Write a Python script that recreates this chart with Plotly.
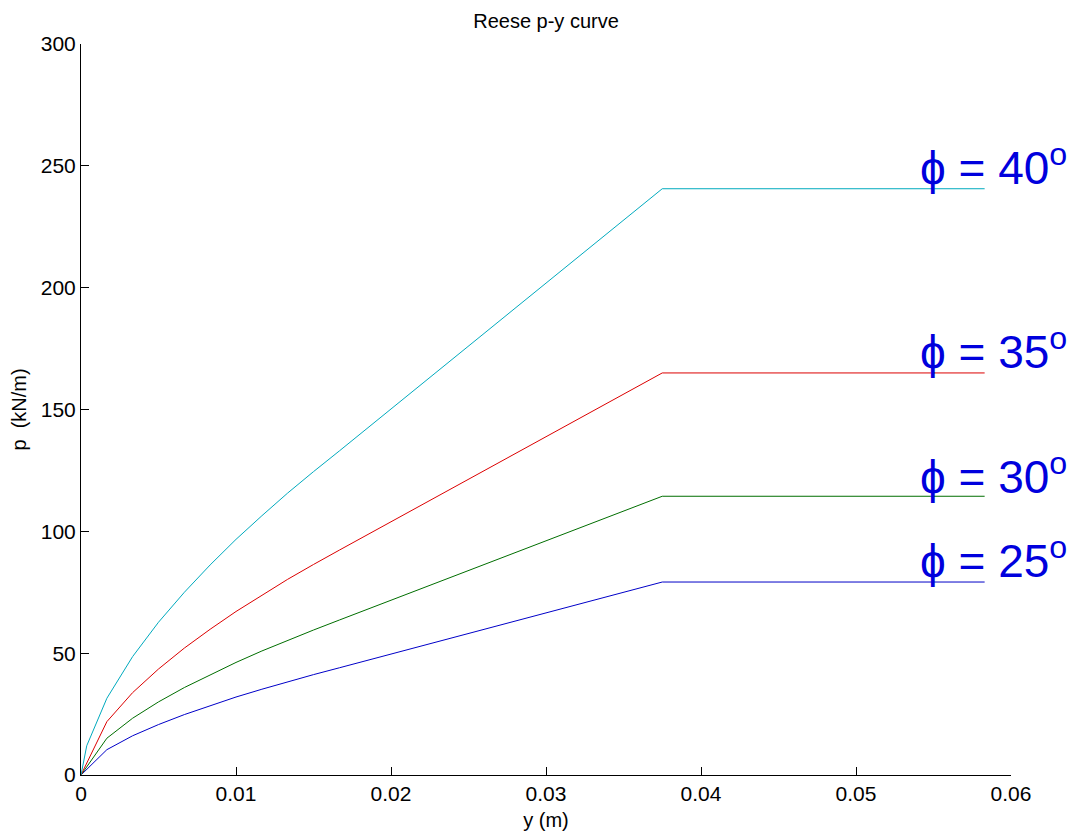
import plotly.graph_objects as go

# displacement y (m) sample points
y_cyan = [0, 0.00037, 0.00167, 0.00333, 0.005, 0.00667, 0.00833, 0.01, 0.01167, 0.01333, 0.015, 0.01667, 0.0375, 0.0583]
y_std = [0, 0.00167, 0.00333, 0.005, 0.00667, 0.00833, 0.01, 0.01167, 0.01333, 0.015, 0.01667, 0.0375, 0.0583]

# soil resistance p (kN/m)
p_25 = [0, 10.4, 16.1, 20.7, 24.8, 28.5, 32.0, 35.2, 38.3, 41.2, 44.0, 79.2, 79.2]
p_30 = [0, 15.1, 23.3, 30.0, 35.9, 41.2, 46.2, 50.9, 55.3, 59.5, 63.6, 114.4, 114.4]
p_35 = [0, 21.9, 33.8, 43.5, 52.1, 59.8, 67.1, 73.9, 80.3, 86.4, 92.3, 165.0, 165.0]
p_40 = [0, 12.0, 31.5, 48.6, 62.7, 75.0, 86.2, 96.7, 106.4, 115.7, 124.5, 133.0, 240.6, 240.6]

series = [
    ("25", y_std, p_25, "rgb(0,0,200)"),
    ("30", y_std, p_30, "rgb(0,110,0)"),
    ("35", y_std, p_35, "rgb(220,0,0)"),
    ("40", y_cyan, p_40, "rgb(0,170,190)"),
]

x_ticks = [0, 0.01, 0.02, 0.03, 0.04, 0.05, 0.06]
x_ticklabels = ["0", "0.01", "0.02", "0.03", "0.04", "0.05", "0.06"]
y_ticks = [0, 50, 100, 150, 200, 250, 300]

fig = go.Figure()
for name, xs, ps, col in series:
    fig.add_trace(go.Scatter(x=xs, y=ps, mode="lines", name=name,
                             line=dict(color=col, width=1), showlegend=False))

shifts = {"25": 24, "30": 22, "35": 24, "40": 24}
for name, xs, ps, col in series:
    fig.add_annotation(x=xs[-1], y=ps[-1], xref="x", yref="y",
                       text="ϕ = " + name + "<sup>o</sup>", showarrow=False,
                       xanchor="right", yanchor="middle", xshift=84, yshift=shifts[name],
                       font=dict(family="Liberation Sans, Arial", size=46, color="#0000DD"))

fig.update_layout(
    width=1082, height=837,
    paper_bgcolor="white", plot_bgcolor="white",
    margin=dict(l=73, r=79, t=36, b=70),
    font=dict(family="Liberation Sans, Arial", size=20, color="black"),
    title=dict(text="Reese p-y curve", x=0.5, xref="paper", y=0.985, yanchor="middle",
               font=dict(size=20, color="black")),
)
fig.update_xaxes(range=[0, 0.06], tickvals=x_ticks, ticktext=x_ticklabels,
                 ticks="inside", ticklen=8, tickcolor="black", tickwidth=1,
                 showline=True, linecolor="black", linewidth=1, mirror=False,
                 showgrid=False, zeroline=False, tickfont=dict(size=21),
                 title=dict(text="y (m)", standoff=8, font=dict(size=20)))
fig.update_yaxes(range=[0, 300], tickvals=y_ticks,
                 ticks="inside", ticklen=8, tickcolor="black", tickwidth=1,
                 showline=True, linecolor="black", linewidth=1, mirror=False,
                 showgrid=False, zeroline=False, tickfont=dict(size=21),
                 title=dict(text="p  (kN/m)", standoff=8, font=dict(size=20)))

fig.write_html("out.html")
